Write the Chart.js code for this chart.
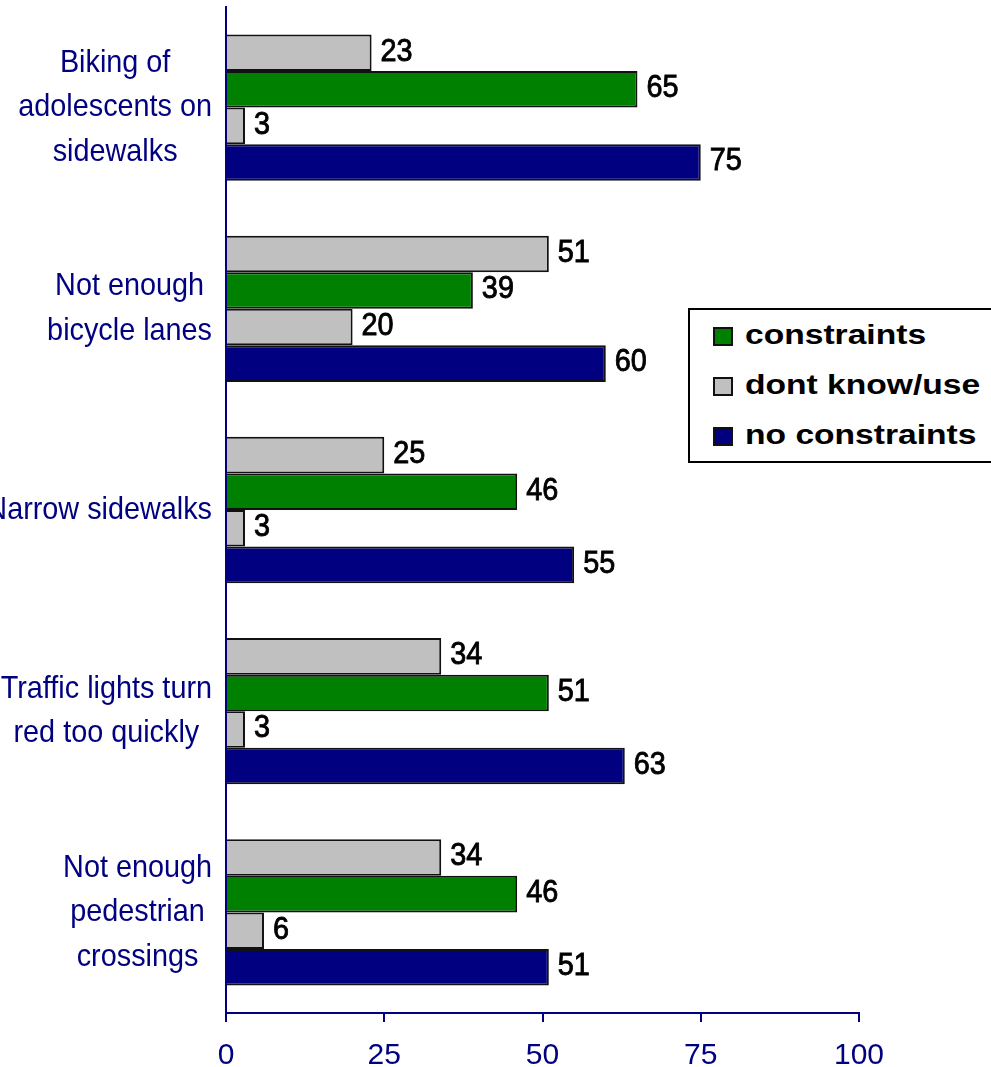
<!DOCTYPE html>
<html><head><meta charset="utf-8">
<script src="https://cdn.jsdelivr.net/npm/chart.js@4"></script>
<style>
html,body{margin:0;padding:0;background:#fff;overflow:hidden;}
#wrap{position:relative;width:991px;height:1067px;overflow:hidden;}
#legend{position:absolute;left:688px;top:308px;width:320px;height:155px;border:2px solid #000;background:#fff;box-sizing:border-box;}
.row{position:absolute;left:0;height:50px;width:300px;}
.mk{position:absolute;left:23px;top:16px;width:20px;height:19px;box-sizing:border-box;border:2px solid #111;}
.tx{position:absolute;left:55px;top:8px;line-height:50px;font:bold 28px 'Liberation Sans',Arial,sans-serif;color:#000;transform:scaleX(1.2);transform-origin:0 50%;white-space:nowrap;}
</style></head>
<body>
<div id="wrap"><canvas id="c" width="991" height="1067"></canvas><div id="legend"></div></div>
<script>
// ---- data ----
const categories = [
  ["Biking of", "adolescents on", "sidewalks"],
  ["Not enough", "bicycle lanes"],
  ["Narrow sidewalks"],
  ["Traffic lights turn", "red too quickly"],
  ["Not enough", "pedestrian", "crossings"]
];
const dontKnowConstraints   = [23, 51, 25, 34, 34];
const constraints           = [65, 39, 46, 51, 46];
const dontKnowNoConstraints = [3, 20, 3, 3, 6];
const noConstraints         = [75, 60, 55, 63, 51];
const xTickValues = [0, 25, 50, 75, 100];
const seriesNames = ["dont know/use", "constraints", "dont know/use", "no constraints"];
const legendOrder = [1, 0, 3];

const FONT = "'Liberation Sans',Arial,sans-serif";
const NAVY = '#000080', GREEN = '#008000', GRAY = '#C0C0C0';
const colors = [GRAY, GREEN, GRAY, NAVY];
const seriesData = [dontKnowConstraints, constraints, dontKnowNoConstraints, noConstraints];

const datasets = seriesData.map((d, i) => ({
  label: seriesNames[i],
  data: d,
  backgroundColor: colors[i],
  borderColor: '#111',
  borderWidth: 2,
  categoryPercentage: 0.727,
  barPercentage: 1.0
}));

const catLabelPlugin = {
  id: 'catLabels',
  afterDraw(chart) {
    const ys = chart.scales.y, ctx = chart.ctx;
    const labels = chart.data.labels;
    const sx = 0.9, lh = 44.5, right = 212;
    ctx.save();
    ctx.font = '32px ' + FONT;
    ctx.fillStyle = NAVY;
    ctx.textBaseline = 'middle';
    ctx.textAlign = 'center';
    labels.forEach((lab, i) => {
      const lines = [].concat(lab);
      const widest = Math.max(...lines.map(l => ctx.measureText(l).width)) * sx;
      const cx = right - widest / 2;
      const yc = ys.getPixelForTick(i);
      lines.forEach((l, k) => {
        const y = yc + (k - (lines.length - 1) / 2) * lh;
        ctx.save();
        ctx.translate(cx, y);
        ctx.scale(sx, 1);
        ctx.fillText(l, 0, 0);
        ctx.restore();
      });
    });
    ctx.restore();
  }
};

const valueLabelPlugin = {
  id: 'valueLabels',
  afterDatasetsDraw(chart) {
    const ctx = chart.ctx;
    ctx.save();
    ctx.font = '32px ' + FONT;
    ctx.fillStyle = '#000';
    ctx.strokeStyle = '#000';
    ctx.lineWidth = 0.9;
    ctx.textBaseline = 'middle';
    ctx.textAlign = 'left';
    chart.data.datasets.forEach((ds, di) => {
      const meta = chart.getDatasetMeta(di);
      meta.data.forEach((el, j) => {
        ctx.save();
        ctx.translate(el.x + 9, el.y - 1);
        ctx.scale(0.9, 1);
        ctx.fillText(String(ds.data[j]), 0, 0);
        ctx.strokeText(String(ds.data[j]), 0, 0);
        ctx.restore();
      });
    });
    ctx.restore();
  }
};

new Chart(document.getElementById('c'), {
  type: 'bar',
  data: { labels: categories, datasets },
  options: {
    indexAxis: 'y',
    responsive: false,
    animation: false,
    devicePixelRatio: 1,
    layout: { padding: { top: 7, right: 132, bottom: 0, left: 0 } },
    plugins: { legend: { display: false }, tooltip: { enabled: false } },
    scales: {
      y: {
        afterFit(s) { s.width = 226; },
        grid: { display: false, drawTicks: false },
        border: { color: NAVY, width: 2 },
        ticks: { display: false }
      },
      x: {
        min: 0, max: 100,
        afterBuildTicks(s) { s.ticks = xTickValues.map(v => ({ value: v })); },
        afterFit(s) { s.height = 54; },
        grid: { drawOnChartArea: false, color: NAVY, lineWidth: 2, tickLength: 9 },
        border: { color: NAVY, width: 2 },
        ticks: { color: NAVY, font: { family: FONT, size: 30 }, padding: 16, maxRotation: 0, autoSkip: false }
      }
    }
  },
  plugins: [catLabelPlugin, valueLabelPlugin]
});

// HTML legend built from the datasets
const lg = document.getElementById('legend');
legendOrder.forEach((di, r) => {
  const row = document.createElement('div');
  row.className = 'row';
  row.style.top = (1 + r * 50) + 'px';
  const mk = document.createElement('div');
  mk.className = 'mk';
  mk.style.background = colors[di];
  const tx = document.createElement('div');
  tx.className = 'tx';
  tx.textContent = seriesNames[di];
  row.appendChild(mk); row.appendChild(tx);
  lg.appendChild(row);
});
</script>
</body></html>
